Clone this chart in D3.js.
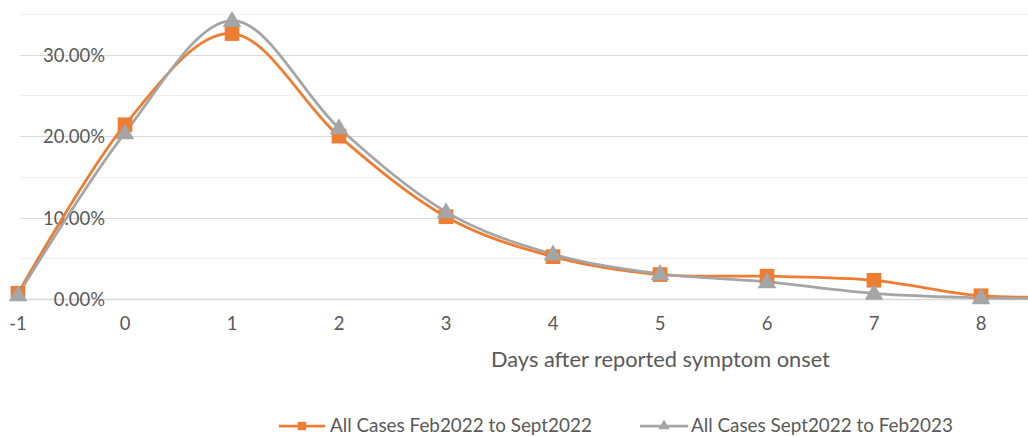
<!DOCTYPE html>
<html>
<head>
<meta charset="utf-8">
<script src="https://cdn.jsdelivr.net/npm/d3@7"></script>
<style>
  html, body { margin: 0; padding: 0; background: #fff; }
  svg { display: block; }
  text { font-family: Lato, "Open Sans", sans-serif; fill: #595959; }
</style>
</head>
<body>
<svg id="chart" width="1028" height="436"></svg>
<script>
// ---- data ----
const days = [-1, 0, 1, 2, 3, 4, 5, 6, 7, 8, 9];
const seriesA = [0.007, 0.214, 0.326, 0.200, 0.101, 0.052, 0.030, 0.028, 0.023, 0.004, 0.0035]; // Feb2022 to Sept2022
const seriesB = [0.005, 0.204, 0.342, 0.210, 0.107, 0.055, 0.031, 0.021, 0.007, 0.0015, 0.001]; // Sept2022 to Feb2023
const seriesNames = ["All Cases Feb2022 to Sept2022", "All Cases Sept2022 to Feb2023"];
const xTicks = [-1, 0, 1, 2, 3, 4, 5, 6, 7, 8];
const yLabelTicks = [0, 0.10, 0.20, 0.30];
const yGridTicks = [0, 0.05, 0.10, 0.15, 0.20, 0.25, 0.30, 0.35];
const axisTitle = "Days after reported symptom onset";

const colors = ["#ED7D31", "#A5A5A5"];

const svg = d3.select("#chart");
const x = d3.scaleLinear().domain([-1, 9]).range([18, 1088]);
const y = d3.scaleLinear().domain([0, 0.35]).range([299, 14]);

// fit text helper
function fitSize(str, targetWidth, base) {
  const t = svg.append("text").attr("font-size", base).text(str);
  const w = t.node().getComputedTextLength();
  t.remove();
  return base * targetWidth / w;
}
const tickSize = fitSize("30.00%", 62, 20);
const titleSize = fitSize(axisTitle, 339, 20);
const legendSize = fitSize(seriesNames[0], 262, 20);

// gridlines
svg.append("g").selectAll("line").data(yGridTicks).join("line")
  .attr("x1", 20).attr("x2", 1028)
  .attr("y1", d => Math.round(y(d)) + 0.5).attr("y2", d => Math.round(y(d)) + 0.5)
  .attr("stroke", d => (Math.round(d * 100) % 10 === 0) ? "#D9D9D9" : "#EFEFEF")
  .attr("stroke-width", d => d === 0 ? 1.5 : 1);

// y labels
svg.append("g").selectAll("text").data(yLabelTicks).join("text")
  .attr("x", 105).attr("y", d => y(d))
  .attr("text-anchor", "end").attr("dominant-baseline", "central")
  .attr("font-size", tickSize)
  .text(d => d3.format(".2%")(d));

// x labels
svg.append("g").selectAll("text").data(xTicks).join("text")
  .attr("x", d => x(d)).attr("y", 323)
  .attr("text-anchor", "middle").attr("dominant-baseline", "central")
  .attr("font-size", tickSize)
  .text(d => String(d));

// axis title
svg.append("text").attr("x", 491).attr("y", 358)
  .attr("dominant-baseline", "central")
  .attr("font-size", titleSize).text(axisTitle);

// lines
const line = d3.line().x((d, i) => x(days[i])).y(d => y(d)).curve(d3.curveCardinal.tension(0));
[seriesA, seriesB].forEach((s, k) => {
  svg.append("path").datum(s).attr("d", line)
    .attr("fill", "none").attr("stroke", colors[k]).attr("stroke-width", 2.75)
    .attr("stroke-linejoin", "round");
});

// markers
const sq = d3.symbol().type(d3.symbolSquare).size(215);
const tri = d3.symbol().type(d3.symbolTriangle).size(150);
svg.append("g").selectAll("path").data(seriesA).join("path")
  .attr("transform", (d, i) => `translate(${x(days[i])},${y(d)})`)
  .attr("d", sq).attr("fill", colors[0]);
svg.append("g").selectAll("path").data(seriesB).join("path")
  .attr("transform", (d, i) => `translate(${x(days[i])},${y(d) + 1})`)
  .attr("d", tri).attr("fill", colors[1]);

// legend
const legendY = 426;
const legendItems = [
  { x1: 279, x2: 325, tx: 330, sym: d3.symbol().type(d3.symbolSquare).size(70) },
  { x1: 640, x2: 688, tx: 691, sym: d3.symbol().type(d3.symbolTriangle).size(55) }
];
legendItems.forEach((it, k) => {
  svg.append("line").attr("x1", it.x1).attr("x2", it.x2)
    .attr("y1", legendY).attr("y2", legendY)
    .attr("stroke", colors[k]).attr("stroke-width", 2.75);
  svg.append("path").attr("d", it.sym)
    .attr("transform", `translate(${(it.x1 + it.x2) / 2},${legendY})`)
    .attr("fill", colors[k]);
  svg.append("text").attr("x", it.tx).attr("y", legendY - 2)
    .attr("dominant-baseline", "central")
    .attr("font-size", legendSize).text(seriesNames[k]);
});
</script>
</body>
</html>
